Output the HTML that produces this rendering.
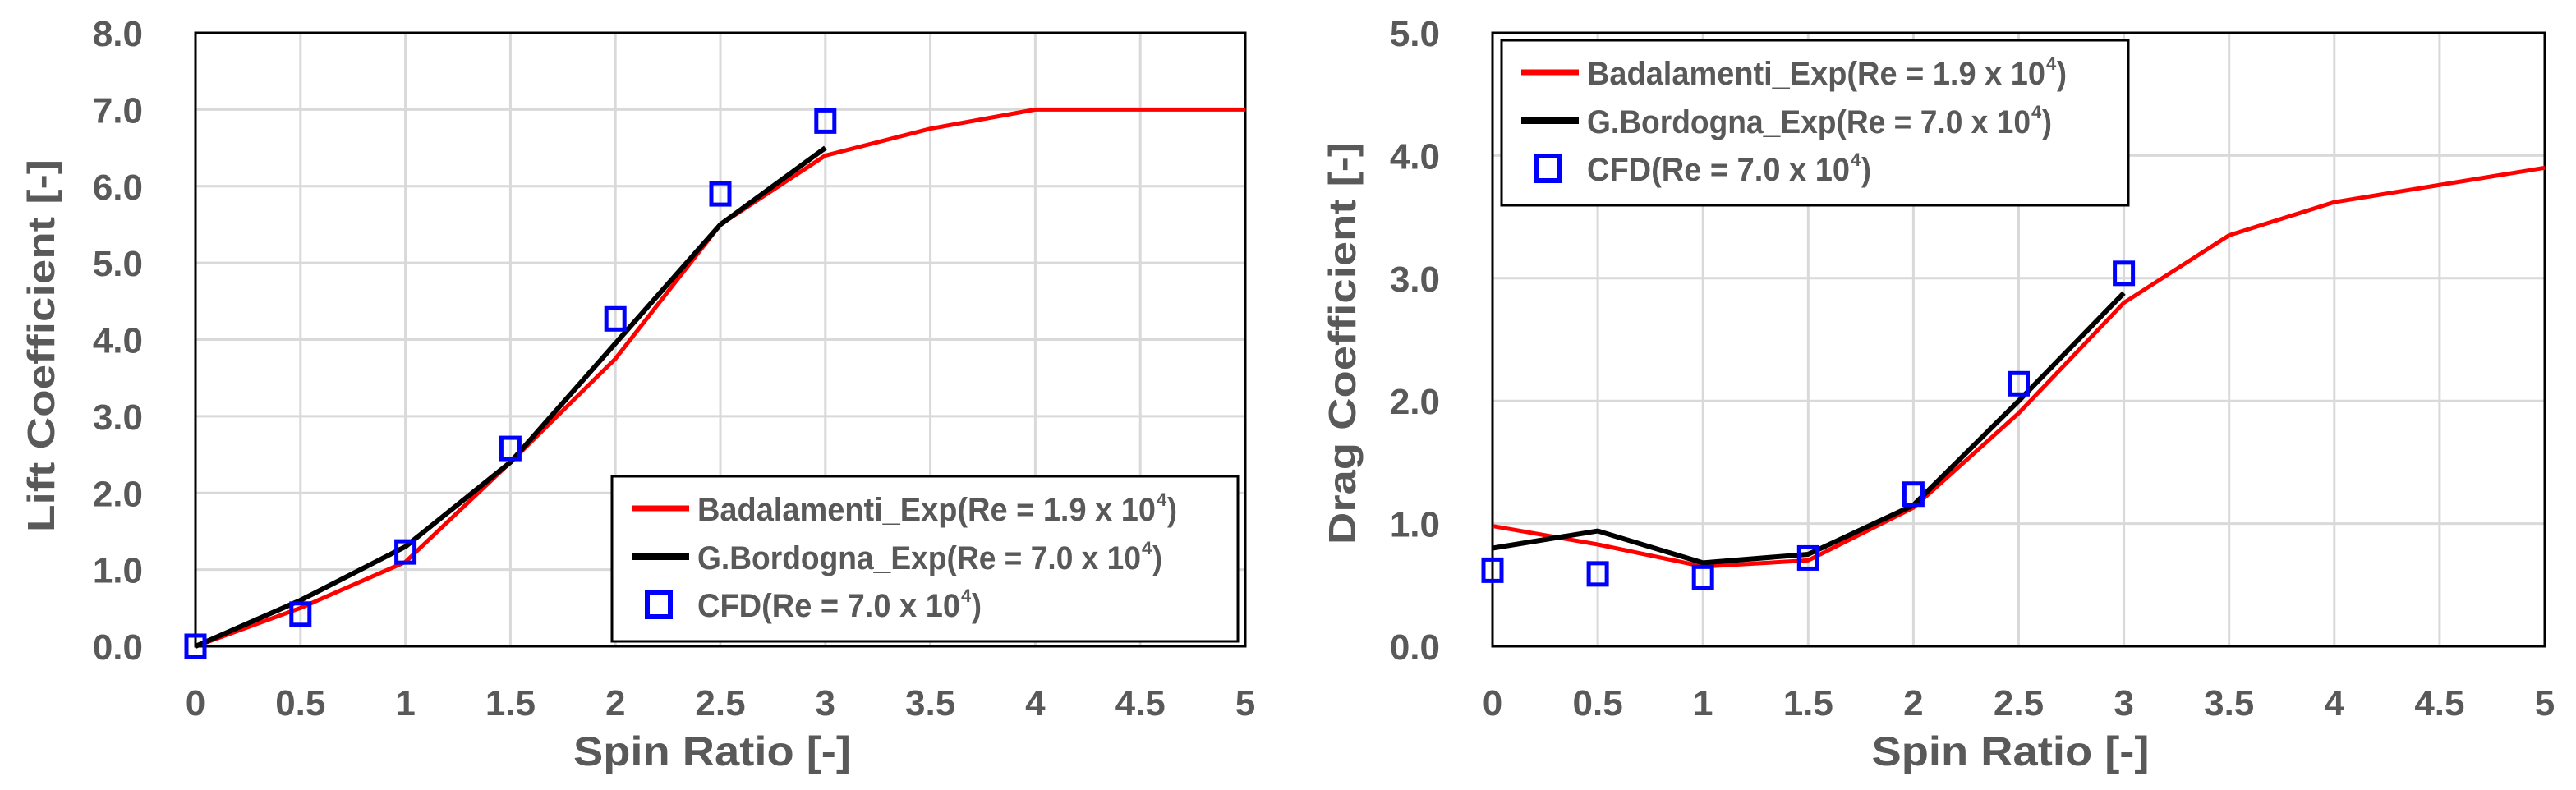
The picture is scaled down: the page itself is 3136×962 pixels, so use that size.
<!DOCTYPE html>
<html><head><meta charset="utf-8"><style>
html,body{margin:0;padding:0;background:#fff;width:3136px;height:962px;overflow:hidden}
svg text{font-family:"Liberation Sans",sans-serif;font-weight:bold;fill:#595959}
</style></head><body>
<svg id="s" width="3136" height="962" xmlns="http://www.w3.org/2000/svg"></svg>
<script>
const xTicks=[0,0.5,1,1.5,2,2.5,3,3.5,4,4.5,5];
const xTickLabels=["0","0.5","1","1.5","2","2.5","3","3.5","4","4.5","5"];
const liftTicks=[0,1,2,3,4,5,6,7,8];
const liftTickLabels=["0.0","1.0","2.0","3.0","4.0","5.0","6.0","7.0","8.0"];
const dragTicks=[0,1,2,3,4,5];
const dragTickLabels=["0.0","1.0","2.0","3.0","4.0","5.0"];
const badX=[0,0.5,1,1.5,2,2.5,3,3.5,4,4.5,5];
const liftBad=[0,0.5,1.1,2.4,3.75,5.5,6.4,6.75,7.0,7.0,7.0];
const dragBad=[0.98,0.83,0.65,0.7,1.13,1.9,2.8,3.35,3.62,3.76,3.9];
const borX=[0,0.5,1,1.5,2,2.5,3];
const liftBor=[0,0.6,1.3,2.4,3.95,5.5,6.5];
const dragBor=[0.8,0.94,0.68,0.75,1.15,2.0,2.88];
const cfdX=[0,0.5,1,1.5,2,2.5,3];
const liftCfd=[0,0.42,1.23,2.58,4.27,5.9,6.85];
const dragCfd=[0.62,0.59,0.56,0.72,1.24,2.14,3.04];
const legendLabels=["Badalamenti_Exp(Re = 1.9 x 10","G.Bordogna_Exp(Re = 7.0 x 10","CFD(Re = 7.0 x 10"];

const NS="http://www.w3.org/2000/svg";
const svg=document.getElementById('s');
function mk(tag,attrs,parent){const e=document.createElementNS(NS,tag);for(const k in attrs)e.setAttribute(k,attrs[k]);(parent||svg).appendChild(e);return e;}

function chart(o){
  const g=mk('g',{});
  
  
  const X=v=>o.x0+(o.x1-o.x0)*v/5;
  const Y=v=>o.y1-(o.y1-o.y0)*v/o.ymax;
  xTicks.forEach((t,i)=>{
    if(i>0&&i<xTicks.length-1){const l=mk('line',{x1:X(t),x2:X(t),y1:o.y0,y2:o.y1,stroke:'#d9d9d9','stroke-width':3},g);
    }
    const tx=mk('text',{x:X(t),y:871,'text-anchor':'middle','font-size':44},g);
    
    tx.textContent=xTickLabels[i];
  });
  o.ticks.forEach((t,i)=>{
    if(i>0&&i<o.ticks.length-1){const l=mk('line',{x1:o.x0,x2:o.x1,y1:Y(t),y2:Y(t),stroke:'#d9d9d9','stroke-width':3},g);
    }
    const tx=mk('text',{x:o.lblx,y:Y(t)+16,'text-anchor':'end','font-size':44},g);
    
    tx.textContent=o.labels[i];
  });
  const b=mk('rect',{x:o.x0,y:o.y0,width:o.x1-o.x0,height:o.y1-o.y0,fill:'none',stroke:'#000','stroke-width':3},g);
  
  const p1=mk('polyline',{points:badX.map((x,i)=>X(x)+','+Y(o.bad[i])).join(' '),fill:'none',stroke:'#ff0000','stroke-width':5,'stroke-linejoin':'round'},g);
  
  const p2=mk('polyline',{points:borX.map((x,i)=>X(x)+','+Y(o.bor[i])).join(' '),fill:'none',stroke:'#000','stroke-width':6,'stroke-linejoin':'round'},g);
  
  cfdX.forEach((x,i)=>{
    const r=mk('rect',{x:X(x)-11,y:Y(o.cfd[i])-13,width:22,height:26,fill:'none',stroke:'#0000ff','stroke-width':5},g);
    
  });
  const L=o.leg;
  const lg=mk('g',{},g);
  
  mk('rect',{x:L.x,y:L.y,width:L.w,height:L.h,fill:'#fff',stroke:'#000','stroke-width':3},lg);
  const ys=[L.y+39,L.y+98,L.y+156];
  mk('line',{x1:L.x+24,x2:L.x+94,y1:ys[0],y2:ys[0],stroke:'#ff0000','stroke-width':7},lg);
  mk('line',{x1:L.x+24,x2:L.x+94,y1:ys[1],y2:ys[1],stroke:'#000','stroke-width':8},lg);
  mk('rect',{x:L.x+43,y:ys[2]-15,width:28,height:30,fill:'none',stroke:'#0000ff','stroke-width':6},lg);
  const widths=[558,540,320];
  legendLabels.forEach((s,i)=>{
    const t=mk('text',{x:L.x+104,y:ys[i]+15,'font-size':40,textLength:widths[i],lengthAdjust:'spacingAndGlyphs'},lg);
    
    t.textContent=s;
    const sup=mk('text',{x:L.x+104+widths[i]+1,y:ys[i]-3,'font-size':22},lg);
    sup.textContent='4';
    
    const par=mk('text',{x:L.x+104+widths[i]+14,y:ys[i]+15,'font-size':40,textLength:12,lengthAdjust:'spacingAndGlyphs'},lg);
    par.textContent=')';
    
  });
  const xt=mk('text',{x:(o.x0+o.x1)/2-10,y:932,'text-anchor':'middle','font-size':50,textLength:338,lengthAdjust:'spacingAndGlyphs'},g);
  
  xt.textContent='Spin Ratio [-]';
  const yt=mk('text',{x:0,y:0,'text-anchor':'middle','font-size':46,textLength:o.ytLen,lengthAdjust:'spacingAndGlyphs',transform:`translate(${o.ytx},${o.yty}) rotate(-90)`},g);
  
  yt.textContent=o.ytitle;
}
chart({name:'lift-chart',x0:238,x1:1516,y0:40,y1:787,ymax:8,ticks:liftTicks,labels:liftTickLabels,lblx:174,
  bad:liftBad,bor:liftBor,cfd:liftCfd,leg:{x:745,y:580,w:762,h:201},ytitle:'Lift Coefficient [-]',ytLen:454,ytx:66,yty:421});
chart({name:'drag-chart',x0:1817,x1:3098,y0:40,y1:787,ymax:5,ticks:dragTicks,labels:dragTickLabels,lblx:1753,
  bad:dragBad,bor:dragBor,cfd:dragCfd,leg:{x:1828,y:49,w:763,h:201},ytitle:'Drag Coefficient [-]',ytLen:490,ytx:1650,yty:418});
</script>
</body></html>
